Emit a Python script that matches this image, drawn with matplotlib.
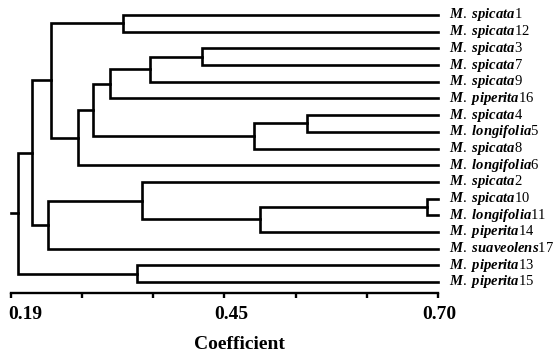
import numpy as np
import matplotlib
matplotlib.use("Agg")
import matplotlib.pyplot as plt
from matplotlib.transforms import ScaledTranslation

plt.rcParams['font.family'] = ['Liberation Serif', 'DejaVu Serif']
plt.rcParams['mathtext.fontset'] = 'custom'
plt.rcParams['mathtext.rm'] = 'Liberation Serif'
plt.rcParams['mathtext.it'] = 'Liberation Serif:italic:bold'

# feuilles, dans l'ordre d'affichage (haut -> bas)
species = ["M. spicata", "M. spicata", "M. spicata", "M. spicata", "M. spicata",
           "M. piperita", "M. spicata", "M. longifolia", "M. spicata", "M. longifolia",
           "M. spicata", "M. spicata", "M. longifolia", "M. piperita", "M. suaveolens",
           "M. piperita", "M. piperita"]
numbers = ["1", "12", "3", "7", "9", "16", "4", "5", "8", "6",
           "2", "10", "11", "14", "17", "13", "15"]

# fusions : (enfant a, enfant b, coefficient) ; indices >= 17 -> fusions precedentes
merge_a = [0, 2, 18, 19, 6, 21, 20, 23, 17, 11, 26, 10, 28, 25, 15, 30]
merge_b = [1, 3, 4, 5, 7, 8, 22, 9, 24, 12, 13, 27, 14, 29, 16, 31]
merge_h = [0.324, 0.418, 0.356, 0.308, 0.544, 0.480, 0.288, 0.270, 0.238,
           0.687, 0.487, 0.346, 0.234, 0.215, 0.340, 0.198]

xmin, xmax = 0.19, 0.70
tick_labels = ["0.19", "", "", "0.45", "", "", "0.70"]

fig = plt.figure(figsize=(5.6, 3.58), dpi=100)
ax = fig.add_axes([11 / 560, 1 - 293 / 358, 427 / 560, 293 / 358])

n = len(species)
ypos = list(range(n))
xpos = [xmax] * n
lw = 1.9

for a, b, h in zip(merge_a, merge_b, merge_h):
    ya, yb = ypos[a], ypos[b]
    # branche en U
    ax.plot([xpos[a], h, h, xpos[b]], [ya, ya, yb, yb], color="black",
            lw=lw, solid_joinstyle="miter", clip_on=False)
    ypos.append((ya + yb) / 2)
    xpos.append(h)

# petit bout a la racine
ax.plot([xmin, xpos[-1]], [ypos[-1], ypos[-1]], color="black", lw=lw, clip_on=False)

for i in range(n):
    ax.annotate(r"$\mathit{" + species[i].replace(" ", r"\ ") + "}$" + numbers[i],
                xy=(xmax, i), xytext=(8, -2.5), textcoords="offset points",
                ha="left", va="baseline", fontsize=10.5, annotation_clip=False)

ax.set_xlim(xmin, xmax)
ax.set_ylim(16.66, -0.9)
for s in ["top", "right", "left"]:
    ax.spines[s].set_visible(False)
ax.spines["bottom"].set_linewidth(1.7)
ax.set_yticks([])
ax.set_xticks(np.linspace(xmin, xmax, len(tick_labels)))
ax.set_xticklabels(tick_labels, fontsize=14, fontweight="bold")
ax.tick_params(axis="x", direction="out", length=3.5, width=1.7, pad=6)

offsets = [14.5, 7, 1]
for lab, dx in zip([l for l in ax.get_xticklabels() if l.get_text()], offsets):
    lab.set_transform(lab.get_transform() + ScaledTranslation(dx / 100, 0, fig.dpi_scale_trans))

ax.set_xlabel("Coefficient", fontsize=14, fontweight="bold")
ax.xaxis.set_label_coords(228 / 427, -43 / 293)

fig.savefig("out.png", dpi=100)
